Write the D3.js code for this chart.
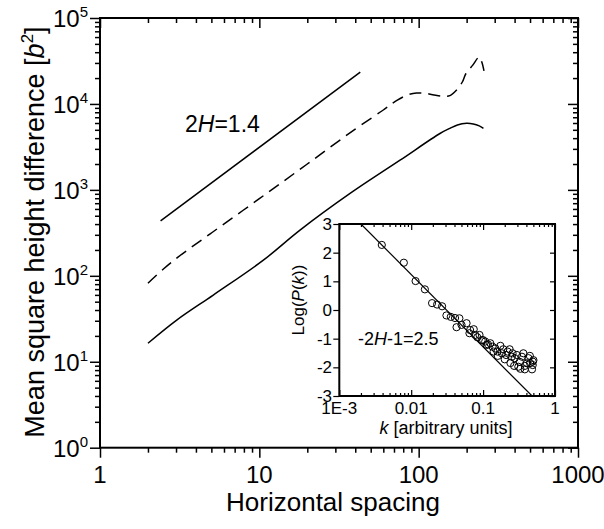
<!DOCTYPE html>
<html>
<head>
<meta charset="utf-8">
<script src="https://cdn.jsdelivr.net/npm/d3@7"></script>
<style>
  body { margin: 0; background: #fff; }
  svg { display: block; font-family: "Liberation Sans", Arial, sans-serif; }
  .axis path, .axis line { stroke: #000; }
  .axis text { fill: #000; }
</style>
</head>
<body>
<svg id="chart" width="604" height="529"></svg>
<script>
// main plot: mean square height difference vs horizontal spacing
const solidCurve = [
    [2.0, 16.4], [3.03, 30.5], [5.14, 59.7], [10.6, 152], [18, 340], [37.1, 908],
    [76.4, 2215], [136, 4530], [157, 5200], [175, 5700], [200, 5950], [220, 5850],
    [240, 5550], [255, 5200]
];
const dashedCurve = [
    [2.0, 82], [2.5, 120], [3.1, 166], [5, 315], [10, 790], [20, 2000], [40, 5100],
    [60, 8500], [73, 11000], [85, 12700], [97, 13400], [110, 13300], [125, 12700],
    [143, 12300], [157, 12500], [173, 14500], [188, 18000], [198, 22600], [218, 28100],
    [240, 35200], [249, 30800], [257, 24200]
];
const slopeLine = [[2.4, 435], [43, 23500]];

const xMajor = [1, 10, 100, 1000];
const yMajor = [1, 10, 100, 1000, 10000, 100000];

// inset: power spectrum
const insetPoints = [
    [0.0039, 2.27], [0.0079, 1.65], [0.0115, 1.01], [0.0155, 0.72], [0.0195, 0.24],
    [0.0229, 0.19], [0.0269, 0.13], [0.0309, -0.19], [0.0355, -0.24], [0.0407, -0.28],
    [0.0427, -0.60], [0.0468, -0.29], [0.0501, -0.52], [0.0589, -0.46], [0.0646, -0.81],
    [0.066, -0.70], [0.0741, -0.67], [0.0776, -0.87], [0.083, -0.95], [0.0891, -0.87],
    [0.0955, -1.05], [0.1, -1.05], [0.107, -1.10], [0.112, -1.22], [0.117, -1.20],
    [0.126, -1.16], [0.135, -1.28], [0.14, -1.45], [0.148, -1.34], [0.158, -1.45],
    [0.16, -1.60], [0.174, -1.25], [0.182, -1.51], [0.191, -1.37], [0.2, -1.72],
    [0.209, -1.57], [0.219, -1.45], [0.234, -1.37], [0.24, -1.85], [0.251, -1.63],
    [0.257, -1.51], [0.27, -1.95], [0.275, -1.68], [0.295, -1.57], [0.309, -1.98],
    [0.324, -1.81], [0.33, -2.05], [0.347, -1.63], [0.363, -1.51], [0.38, -2.07],
    [0.38, -1.95], [0.407, -1.86], [0.427, -1.68], [0.447, -1.60], [0.45, -1.85],
    [0.479, -2.07], [0.49, -1.92], [0.49, -1.80], [0.501, -1.75]
];
const insetFit = [[0.002, 3.0], [0.48, -3.0]];
const insetXMajor = [0.001, 0.01, 0.1, 1];
const insetXLabels = ["1E-3", "0.01", "0.1", "1"];
const insetYTicks = [-3, -2, -1, 0, 1, 2, 3];

const svg = d3.select('#chart');

function minorsOf(majors) {
    const out = [];
    for (let i = 0; i < majors.length - 1; i++) {
        for (let m = 2; m <= 9; m++) out.push(majors[i] * m);
    }
    return out;
}

// ---- main plot ----
const x = d3.scaleLog().domain([1, 1000]).range([100, 578]);
const y = d3.scaleLog().domain([1, 100000]).range([447.7, 18]);

const g = svg.append('g');

function drawAxis(axisFn, scale, values, size, transform) {
    g.append('g')
        .attr('class', 'axis')
        .attr('transform', transform)
        .call(axisFn(scale).tickValues(values).tickSizeInner(size).tickSizeOuter(0).tickFormat(''))
        .call(s => s.select('.domain').remove())
        .selectAll('line').attr('stroke-width', 1.5);
}

// bottom (outward), top (inward), left (outward), right (inward)
drawAxis(d3.axisBottom, x, xMajor, 10, 'translate(0,447.7)');
drawAxis(d3.axisBottom, x, minorsOf(xMajor), 5, 'translate(0,447.7)');
drawAxis(d3.axisBottom, x, xMajor, 10, 'translate(0,18)');
drawAxis(d3.axisBottom, x, minorsOf(xMajor), 5, 'translate(0,18)');
drawAxis(d3.axisLeft, y, yMajor, 10, 'translate(100,0)');
drawAxis(d3.axisLeft, y, minorsOf(yMajor), 5, 'translate(100,0)');
drawAxis(d3.axisLeft, y, yMajor, 10, 'translate(578,0)');
drawAxis(d3.axisLeft, y, minorsOf(yMajor), 5, 'translate(578,0)');

g.append('rect')
    .attr('x', 100).attr('y', 18)
    .attr('width', 478).attr('height', 429.7)
    .attr('fill', 'none').attr('stroke', '#000').attr('stroke-width', 2);

// tick labels
g.selectAll('.xlab').data(xMajor).enter().append('text')
    .attr('x', d => x(d)).attr('y', 483)
    .attr('text-anchor', 'middle')
    .attr('font-size', 24)
    .text(d => d);

const ylab = g.selectAll('.ylab').data(yMajor).enter().append('text')
    .attr('x', 88).attr('y', d => y(d) + 9)
    .attr('text-anchor', 'end')
    .attr('font-size', 24);
ylab.append('tspan').text('10');
ylab.append('tspan').attr('font-size', 15).attr('dy', -10).text(d => Math.round(Math.log10(d)));

// axis titles
g.append('text')
    .attr('x', 333).attr('y', 511)
    .attr('text-anchor', 'middle')
    .attr('font-size', 26)
    .text('Horizontal spacing');

const yt = g.append('text')
    .attr('transform', 'translate(44,232) rotate(-90)')
    .attr('text-anchor', 'middle')
    .attr('font-size', 27);
yt.append('tspan').text('Mean square height difference [');
yt.append('tspan').attr('font-style', 'italic').text('b');
yt.append('tspan').attr('font-size', 17).attr('dy', -11).text('2');
yt.append('tspan').attr('dy', 11).text(']');

// data lines
const line = d3.line()
    .x(d => x(d[0]))
    .y(d => y(d[1]))
    .curve(d3.curveCatmullRom.alpha(0.5));

g.append('path').datum(slopeLine)
    .attr('d', d3.line().x(d => x(d[0])).y(d => y(d[1])))
    .attr('fill', 'none').attr('stroke', '#000').attr('stroke-width', 1.5);

g.append('path').datum(dashedCurve)
    .attr('d', line)
    .attr('fill', 'none').attr('stroke', '#000').attr('stroke-width', 1.5)
    .attr('stroke-dasharray', '12,7');

g.append('path').datum(solidCurve)
    .attr('d', line)
    .attr('fill', 'none').attr('stroke', '#000').attr('stroke-width', 1.5);

const lab = g.append('text')
    .attr('x', 185).attr('y', 131.5)
    .attr('font-size', 23);
lab.append('tspan').text('2');
lab.append('tspan').attr('font-style', 'italic').text('H');
lab.append('tspan').text('=1.4');

// ---- inset ----
const ix = d3.scaleLog().domain([0.001, 1]).range([339.3, 555]);
const iy = d3.scaleLinear().domain([-3, 3]).range([396, 224]);
const ig = svg.append('g');

ig.append('rect')
    .attr('x', 339.3).attr('y', 224)
    .attr('width', 215.7).attr('height', 172)
    .attr('fill', '#fff');

function insetAxis(axisFn, scale, values, size, transform) {
    ig.append('g')
        .attr('class', 'axis')
        .attr('transform', transform)
        .call(axisFn(scale).tickValues(values).tickSizeInner(size).tickSizeOuter(0).tickFormat(''))
        .call(s => s.select('.domain').remove())
        .selectAll('line').attr('stroke-width', 1.2);
}

insetAxis(d3.axisBottom, ix, insetXMajor, -6, 'translate(0,396)');
insetAxis(d3.axisBottom, ix, minorsOf(insetXMajor), -3, 'translate(0,396)');
insetAxis(d3.axisBottom, ix, insetXMajor, 6, 'translate(0,224)');
insetAxis(d3.axisBottom, ix, minorsOf(insetXMajor), 3, 'translate(0,224)');
insetAxis(d3.axisLeft, iy, insetYTicks, 6, 'translate(339.3,0)');
insetAxis(d3.axisLeft, iy, insetYTicks, 5, 'translate(555,0)');

ig.selectAll('.ixlab').data(insetXMajor).enter().append('text')
    .attr('x', d => ix(d)).attr('y', 414)
    .attr('text-anchor', 'middle')
    .attr('font-size', 17)
    .text((d, i) => insetXLabels[i]);

ig.selectAll('.iylab').data(insetYTicks).enter().append('text')
    .attr('x', 332).attr('y', d => iy(d) + 6)
    .attr('text-anchor', 'end')
    .attr('font-size', 17)
    .text(d => d);

const clip = svg.append('defs').append('clipPath').attr('id', 'insetClip');
clip.append('rect').attr('x', 339.3).attr('y', 224).attr('width', 215.7).attr('height', 172);

ig.append('path').datum(insetFit)
    .attr('clip-path', 'url(#insetClip)')
    .attr('d', d3.line().x(d => ix(d[0])).y(d => iy(d[1])))
    .attr('fill', 'none').attr('stroke', '#000').attr('stroke-width', 1.2);

ig.selectAll('.pt').data(insetPoints).enter().append('circle')
    .attr('cx', d => ix(d[0])).attr('cy', d => iy(d[1]))
    .attr('r', 3.6)
    .attr('fill', 'none').attr('stroke', '#000').attr('stroke-width', 1);

ig.append('rect')
    .attr('x', 339.3).attr('y', 224)
    .attr('width', 215.7).attr('height', 172)
    .attr('fill', 'none').attr('stroke', '#000').attr('stroke-width', 2);

const ixt = ig.append('text')
    .attr('x', 446).attr('y', 434)
    .attr('text-anchor', 'middle')
    .attr('font-size', 18);
ixt.append('tspan').attr('font-style', 'italic').text('k');
ixt.append('tspan').text(' [arbitrary units]');

const iyt = ig.append('text')
    .attr('transform', 'translate(304,300) rotate(-90)')
    .attr('text-anchor', 'middle')
    .attr('font-size', 17);
iyt.append('tspan').text('Log(');
iyt.append('tspan').attr('font-style', 'italic').text('P');
iyt.append('tspan').text('(');
iyt.append('tspan').attr('font-style', 'italic').text('k');
iyt.append('tspan').text('))');

const ilab = ig.append('text')
    .attr('x', 358).attr('y', 345)
    .attr('font-size', 18);
ilab.append('tspan').text('-2');
ilab.append('tspan').attr('font-style', 'italic').text('H');
ilab.append('tspan').text('-1=2.5');
</script>
</body>
</html>
